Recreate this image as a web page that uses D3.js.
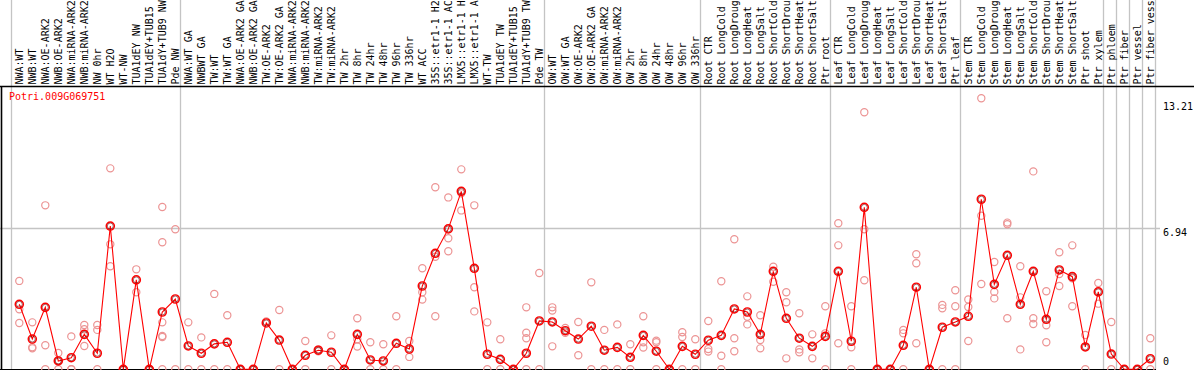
<!DOCTYPE html>
<html>
<head>
<meta charset="utf-8">
<script src="https://cdn.jsdelivr.net/npm/d3@7"></script>
<style>
  body { margin: 0; background: #fff; }
  svg text { font-family: "DejaVu Sans Mono", monospace; font-size: 10px; }
</style>
</head>
<body>
<script>
// gene shown
var geneName = "Potri.009G069751";

// sample labels, one per column
var labels = ["NWA:WT", "NWB:WT", "NWA:OE-ARK2", "NWB:OE-ARK2", "NWA:miRNA-ARK2", "NWB:miRNA-ARK2",
  "NW 0hr", "WT H2O", "WT-NW", "TUA1dEY NW", "TUA1dEY+TUB15 NW", "TUA1dY+TUB9 NW", "Pde NW",
  "NWA:WT GA", "NWBWT GA", "TW:WT", "TW:WT GA", "NWA:OE-ARK2 GA", "NWB:OE-ARK2 GA", "TW:OE-ARK2",
  "TW:OE-ARK2 GA", "NWA:miRNA-ARK2", "NWB:miRNA-ARK2", "TW:miRNA-ARK2", "TW:miRNA-ARK2", "TW 2hr",
  "TW 8hr", "TW 24hr", "TW 48hr", "TW 96hr", "TW 336hr", "WT ACC", "35S::etr1-1 H2O", "35S::etr1-1 ACC",
  "LMX5::etr1-1 H2O", "LMX5::etr1-1 ACC", "WT-TW", "TUA1dEY TW", "TUA1dEY+TUB15 TW", "TUA1dY+TUB9 TW", "Pde TW",
  "OW:WT", "OW:WT GA", "OW:OE-ARK2", "OW:OE-ARK2 GA", "OW:miRNA-ARK2", "OW:miRNA-ARK2", "OW 2hr", "OW 8hr",
  "OW 24hr", "OW 48hr", "OW 96hr", "OW 336hr",
  "Root CTR", "Root LongCold", "Root LongDrought", "Root LongHeat", "Root LongSalt", "Root ShortCold",
  "Root ShortDrought", "Root ShortHeat", "Root ShortSalt", "Ptr root",
  "Leaf CTR", "Leaf LongCold", "Leaf LongDrought", "Leaf LongHeat", "Leaf LongSalt", "Leaf ShortCold",
  "Leaf ShortDrought", "Leaf ShortHeat", "Leaf ShortSalt", "Ptr leaf",
  "Stem CTR", "Stem LongCold", "Stem LongDrought", "Stem LongHeat", "Stem LongSalt", "Stem ShortCold",
  "Stem ShortDrought", "Stem ShortHeat", "Stem ShortSalt", "Ptr shoot", "Ptr xylem",
  "Ptr phloem", "Ptr fiber", "Ptr vessel", "Ptr fiber vessel"];

// mean expression per column
var means = [3.20, 1.49, 3.05, 0.41, 0.57, 1.72, 0.79, 7.05, 0, 4.40, 0, 2.82, 3.46,
  1.15, 0.79, 1.25, 1.33, 0, 0, 2.28, 1.44, 0, 0.69, 0.94, 0.84, 0, 1.72, 0.46, 0.41, 1.28, 1.00,
  4.10, 5.71, 6.91, 8.76, 4.97, 0.74, 0.49, 0, 0.79, 2.38,
  2.33, 1.90, 1.49, 2.12, 0.94, 1.08, 0.59, 1.67, 0.89, 0, 1.13, 0.74,
  1.43, 1.67, 2.97, 2.82, 1.72, 4.82, 2.51, 1.53, 1.13, 1.62,
  4.82, 1.38, 7.97, 0, 0, 1.18, 4.04, 0, 2.07, 2.33,
  2.61, 8.37, 4.18, 5.61, 3.20, 4.82, 2.46, 4.89, 4.56, 1.10, 3.81,
  0.75, 0, 0, 0.52];

// replicate values per column
var replicates = [[4.35, 2.95, 2.28], [2.31, 1.08, 1.03], [8.07, 1.18, 0], [0.80, 0.43, 0], [1.62, 0, 0],
  [2.18, 1.97, 1.15], [2.18, 1.94, 0], [9.89, 6.15, 5.07], [0, 0], [4.92, 3.79], [0, 0],
  [7.99, 6.25, 2.31, 1.64, 1.59, 0], [6.89, 0],
  [2.31, 0], [1.57, 0], [3.71, 0], [2.66, 0], [0, 0], [0, 0], [2.35], [2.92, 0], [0, 0], [1.39, 0],
  [0.98, 0.89], [1.67, 0], [0, 0], [2.51, 1.48, 1.12], [1.33, 0], [1.23, 0], [2.61, 0], [1.39, 0.61],
  [4.97, 3.79, 3.43], [8.96, 5.54, 2.61], [8.46, 6.45, 5.81], [9.84, 8.66, 7.82], [8.07, 4.04, 2.85],
  [2.31, 0], [1.48, 0], [0, 0], [3.05, 1.80, 1.53, 0], [4.74, 0],
  [3.05, 2.89, 1.13], [2.03, 1.80], [2.33, 0.69], [4.28, 0], [1.94, 0], [2.21, 0], [1.23, 0],
  [2.61, 1.33, 1.07], [1.41, 1.33, 0], [0, 0], [1.82, 1.59, 0], [1.48, 0],
  [2.38, 1.00, 0.87], [4.33, 0.67, 0], [6.40, 1.53, 0.89], [3.59, 2.59, 2.21], [2.66, 1.44, 1.03],
  [5.05, 4.31], [3.79, 3.30, 0.54], [2.76, 0.98, 0.84], [1.72, 0.54], [3.10, 1.77, 0],
  [7.19, 6.10, 1.28], [3.10, 1.08, 0], [12.65, 6.89, 4.38], [0, 0], [0, 0], [1.94, 1.77, 0],
  [5.66, 5.22, 1.28], [0, 0], [3.17, 3.00, 0], [3.89, 3.10, 0],
  [3.44, 3.07, 1.39], [13.34, 7.56, 4.20], [5.28, 3.81, 3.49], [7.22, 7.14, 2.51], [5.07, 3.54, 0.98],
  [9.74, 2.51, 2.23], [3.84, 2.17, 1.33], [5.76, 4.69, 4.10], [6.10, 4.48, 3.10], [1.69, 0], [4.25, 3.23],
  [2.33, 0], [0, 0], [0, 0], [1.53, 0]];

// columns where a new group starts (last = end)
var groupStarts = [0, 13, 41, 53, 63, 73, 84, 85, 86, 87, 88];

// value axis labels
var yTicks = [0, 6.94, 13.21];
var yMax = 13.21;

var width = 1194, height = 370;
var headerH = 86, plotBottom = 369.3, plotRight = 1156;
var step = 13;
var maxChars = 14; // header only has room for this many
var repColor = "#ec9494";

var svg = d3.select("body").append("svg")
    .attr("width", width)
    .attr("height", height);

var x = d3.scaleLinear().domain([0, labels.length - 1]).range([19.3, 19.3 + step * (labels.length - 1)]);
var y = d3.scaleLinear().domain([0, yMax]).range([plotBottom, 100.9]);

// group separators
svg.append("g").selectAll("line")
    .data(groupStarts)
    .enter().append("line")
    .attr("x1", function(d){ return Math.round(x(d) - 8) + 0.5; })
    .attr("x2", function(d){ return Math.round(x(d) - 8) + 0.5; })
    .attr("y1", 0).attr("y2", height)
    .attr("stroke", "#c4c4c4")
    .attr("stroke-width", 1.3);

// gridline at middle tick
svg.append("line")
    .attr("x1", 0).attr("x2", plotRight + 4)
    .attr("y1", Math.round(y(yTicks[1])) + 0.5).attr("y2", Math.round(y(yTicks[1])) + 0.5)
    .attr("stroke", "#c4c4c4").attr("stroke-width", 1.3);

// frame
svg.append("line").attr("x1", 0).attr("x2", width).attr("y1", headerH + 0.5).attr("y2", headerH + 0.5)
    .attr("stroke", "#000").attr("stroke-width", 1.3);
svg.append("line").attr("x1", 1.5).attr("x2", 1.5).attr("y1", headerH).attr("y2", height)
    .attr("stroke", "#000").attr("stroke-width", 1.6);
svg.append("line").attr("x1", 0).attr("x2", plotRight).attr("y1", plotBottom + 0.5).attr("y2", plotBottom + 0.5)
    .attr("stroke", "#000").attr("stroke-width", 1.6);

// column labels (cut to the header height like the original)
svg.append("g").selectAll("text")
    .data(labels)
    .enter().append("text")
    .attr("transform", function(d, i){ return "translate(" + (x(i) + 3.6) + "," + (headerH - 1.5) + ") rotate(-90)"; })
    .attr("fill", "#000")
    .text(function(d){ return d.length > maxChars ? d.slice(0, maxChars).trim() : d; });

// value labels
var tickDy = [-4, 8, 9.5];
svg.append("g").selectAll("text")
    .data(yTicks)
    .enter().append("text")
    .attr("x", 1163)
    .attr("y", function(d, i){ return y(d) + tickDy[i]; })
    .attr("fill", "#000")
    .text(function(d){ return d; });

// gene name
svg.append("text")
    .attr("x", 9)
    .attr("y", 100)
    .attr("fill", "#f00")
    .text(geneName);

// replicate points
var repPts = [];
replicates.forEach(function(r, i){
    r.forEach(function(v){ repPts.push([i, v]); });
});
svg.append("g").selectAll("circle")
    .data(repPts)
    .enter().append("circle")
    .attr("cx", function(d){ return x(d[0]); })
    .attr("cy", function(d){ return y(d[1]); })
    .attr("r", 3.6)
    .attr("fill", "none")
    .attr("stroke", repColor)
    .attr("stroke-width", 1.2);

// mean line
var line = d3.line()
    .x(function(d, i){ return x(i); })
    .y(function(d){ return y(d); });
svg.append("path")
    .datum(means)
    .attr("d", line)
    .attr("fill", "none")
    .attr("stroke", "#f00")
    .attr("stroke-width", 1.1);

// mean points
var mg = svg.append("g").selectAll("g")
    .data(means)
    .enter().append("g")
    .attr("transform", function(d, i){ return "translate(" + x(i) + "," + y(d) + ")"; });
mg.append("circle")
    .attr("r", 4.1)
    .attr("fill", "none")
    .attr("stroke", "#f00")
    .attr("stroke-width", 1.4);
mg.append("circle")
    .attr("r", 3)
    .attr("fill", "none")
    .attr("stroke", "#600")
    .attr("stroke-width", 0.6);
</script>
</body>
</html>
